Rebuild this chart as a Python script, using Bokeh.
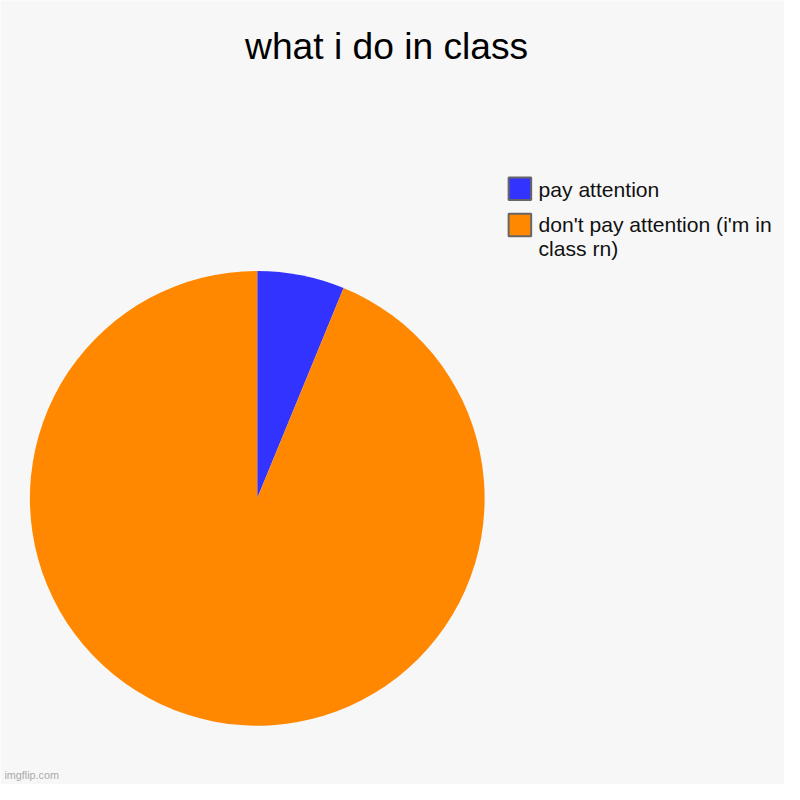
import math
from bokeh.plotting import figure
from bokeh.models import ColumnDataSource, Range1d
from bokeh.core.properties import value
from bokeh.embed import file_html
from bokeh.resources import INLINE

title = "what i do in class"
labels = ["pay attention", "don't pay attention (i'm in\nclass rn)"]
values = [6.2, 93.8]
colors = ["#3333ff", "#ff8800"]

W = 784
S = W / 800.0
FONT = "Liberation Sans"

p = figure(width=W, height=W, output_backend="svg", toolbar_location=None,
           x_range=Range1d(0, 800), y_range=Range1d(0, 800), min_border=0)
p.axis.visible = False
p.grid.visible = False
p.outline_line_color = None
p.background_fill_color = "#f7f7f7"
p.border_fill_color = "#f7f7f7"

total = sum(values)
starts, ends = [], []
a = math.pi / 2
for v in values:
    starts.append(a)
    a -= 2 * math.pi * v / total
    ends.append(a)

src = ColumnDataSource(dict(start=starts, end=ends, color=colors, label=labels))
cx, cy, r = 262, 800 - 508, 232
p.wedge(x=cx, y=cy, radius=r, start_angle="start", end_angle="end", direction="clock",
        fill_color="color", line_color=None, source=src)

# title
p.text(x=[394], y=[800 - 46], text=[title], text_font=value(FONT),
       text_font_size=f"{38*S:.1f}px", text_align="center", text_baseline="middle",
       text_color="#000000")

# legend
swatch_y = [800 - 192, 800 - 229]
p.rect(x=[530] * 2, y=swatch_y, width=23, height=23, fill_color=colors,
       line_color="#666666", line_width=2)
first_mid = [800 - 193, 800 - 228.2]
tx, ty, tt = [], [], []
for lab, b in zip(labels, first_mid):
    for i, line in enumerate(lab.split("\n")):
        tx.append(549)
        ty.append(b - 25 * i)
        tt.append(line)
p.text(x=tx, y=ty, text=tt, text_font=value(FONT),
       text_font_size=f"{21.5*S:.1f}px", text_align="left", text_baseline="middle",
       text_color="#111111")

# watermark
p.text(x=[4], y=[800 - 790], text=["imgflip.com"], text_font=value(FONT),
       text_font_size=f"{11*S:.1f}px", text_align="left", text_baseline="middle",
       text_color="#aaaaaa")

open("out.html", "w").write(file_html(p, INLINE))
